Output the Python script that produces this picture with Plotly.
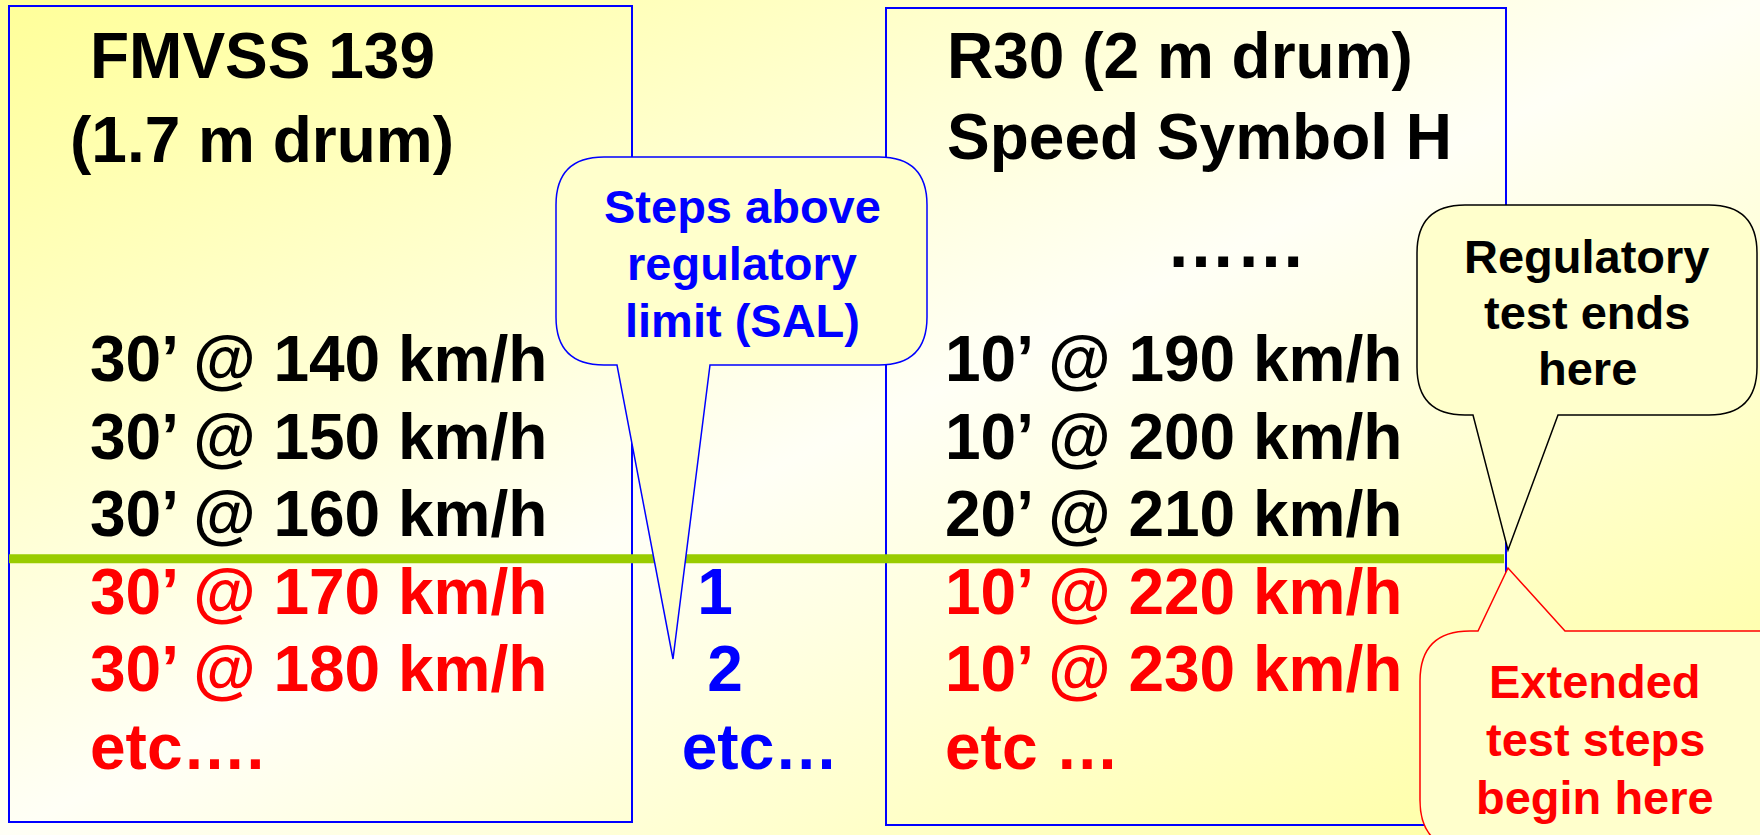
import base64
import plotly.graph_objects as go

W, H = 1760, 835

# ---- data ----
fmvss_minutes = [30, 30, 30, 30, 30]
fmvss_speeds = [140, 150, 160, 170, 180]
r30_minutes = [10, 10, 20, 10, 10]
r30_speeds = [190, 200, 210, 220, 230]
regulatory_rows = 3          # rows above the regulatory limit line
sal_steps = [1, 2]
left_titles = ["FMVSS 139", "(1.7 m drum)"]
right_titles = ["R30 (2 m drum)", "Speed Symbol H"]
sal_note = ["Steps above", "regulatory", "limit (SAL)"]
reg_note = ["Regulatory", "test ends", "here"]
ext_note = ["Extended", "test steps", "begin here"]

FONT = "Liberation Sans, Arial, sans-serif"
BLUE = "#0000FF"
RED = "#FF0000"
BLACK = "#000000"
GREEN = "#99CC00"
FILL = "#FFFFCC"

row_y0, row_step = 365, 77.5
n = len(fmvss_speeds)
row_ys = [row_y0 + i * row_step for i in range(n)]
etc_y = row_y0 + n * row_step
row_colors = [BLACK if i < regulatory_rows else RED for i in range(n)]

fig = go.Figure()

# background gradient
svg = (
    f'<svg xmlns="http://www.w3.org/2000/svg" width="{W}" height="{H}" preserveAspectRatio="none">'
    '<defs><linearGradient id="g" x1="0" y1="0" x2="1" y2="1">'
    '<stop offset="0" stop-color="#FFFF99"/>'
    '<stop offset="0.5" stop-color="#FFFFF6"/>'
    '<stop offset="1" stop-color="#FFFF99"/>'
    '</linearGradient></defs>'
    f'<rect width="{W}" height="{H}" fill="url(#g)"/></svg>'
)
src = "data:image/svg+xml;base64," + base64.b64encode(svg.encode()).decode()

shapes = []
# boxes
shapes.append(dict(type="rect", x0=9, y0=6, x1=632, y1=822, line=dict(color=BLUE, width=2)))
shapes.append(dict(type="rect", x0=886, y0=8, x1=1506, y1=825, line=dict(color=BLUE, width=2)))
# regulatory limit line
limit_y = (row_ys[regulatory_rows - 1] + row_ys[regulatory_rows]) / 2
shapes.append(dict(type="line", x0=9, x1=1504, y0=limit_y, y1=limit_y, line=dict(color=GREEN, width=9)))


def callout(x0, y0, x1, y1, r, base_a, base_b, tip, side="bottom"):
    """rounded rectangle with a triangular pointer; returns svg path"""
    tx, ty = tip
    p = [f"M {x0 + r},{y0}"]
    if side == "top":
        p += [f"L {base_a},{y0}", f"L {tx},{ty}", f"L {base_b},{y0}"]
    p += [f"L {x1 - r},{y0}", f"Q {x1},{y0} {x1},{y0 + r}",
          f"L {x1},{y1 - r}", f"Q {x1},{y1} {x1 - r},{y1}"]
    if side == "bottom":
        p += [f"L {base_b},{y1}", f"L {tx},{ty}", f"L {base_a},{y1}"]
    p += [f"L {x0 + r},{y1}", f"Q {x0},{y1} {x0},{y1 - r}",
          f"L {x0},{y0 + r}", f"Q {x0},{y0} {x0 + r},{y0}", "Z"]
    return " ".join(p)


shapes.append(dict(type="path", path=callout(556, 157, 927, 365, 48, 617, 710, (673, 659)),
                   fillcolor=FILL, line=dict(color=BLUE, width=1.5)))
shapes.append(dict(type="path", path=callout(1417, 205, 1757, 415, 48, 1473, 1558, (1508, 550)),
                   fillcolor=FILL, line=dict(color=BLACK, width=1.5)))
shapes.append(dict(type="path", path=callout(1420, 631, 1810, 850, 50, 1478, 1565, (1508, 568), side="top"),
                   fillcolor=FILL, line=dict(color=RED, width=1.5)))
for s in shapes:
    s.update(xref="x", yref="y", layer="above")

# step rows
fmvss_labels = [f"{m}\u2019 @ {s} km/h" for m, s in zip(fmvss_minutes, fmvss_speeds)] + ["etc\u2026."]
r30_labels = [f"{m}\u2019 @ {s} km/h" for m, s in zip(r30_minutes, r30_speeds)] + ["etc \u2026"]
ys = row_ys + [etc_y]
cols = row_colors + [RED]

fig.add_trace(go.Scatter(x=[90] * len(ys), y=ys, text=fmvss_labels, mode="text",
                         textposition="middle right", hoverinfo="skip",
                         textfont=dict(family=FONT, size=64, color=cols, weight="bold")))
fig.add_trace(go.Scatter(x=[945] * len(ys), y=ys, text=r30_labels, mode="text",
                         textposition="middle right", hoverinfo="skip",
                         textfont=dict(family=FONT, size=64, color=cols, weight="bold")))
sal_labels = [str(v) for v in sal_steps] + ["etc\u2026"]
fig.add_trace(go.Scatter(x=[715, 725, 760], y=row_ys[regulatory_rows:] + [etc_y], text=sal_labels,
                         mode="text", textposition="middle center", hoverinfo="skip",
                         textfont=dict(family=FONT, size=64, color=BLUE, weight="bold")))

ann = []


def add_text(x, y, t, color, size, xanchor="center"):
    ann.append(dict(x=x, y=y, xref="x", yref="y", text=t, showarrow=False, xanchor=xanchor,
                    yanchor="middle", font=dict(family=FONT, size=size, color=color, weight="bold")))


add_text(262, 56, left_titles[0], BLACK, 64)
add_text(262, 140, left_titles[1], BLACK, 64)
add_text(945, 56, right_titles[0], BLACK, 64, "left")
add_text(945, 137, right_titles[1], BLACK, 64, "left")
add_text(1236, 243, "\u2026\u2026", BLACK, 70)
for i, t in enumerate(sal_note):
    add_text(742, 206 + i * 57, t, BLUE, 47)
for i, t in enumerate(reg_note):
    add_text(1587, 256 + i * 56, t, BLACK, 47)
for i, t in enumerate(ext_note):
    add_text(1595, 681 + i * 58, t, RED, 47)

fig.update_layout(
    width=W, height=H, margin=dict(l=0, r=0, t=0, b=0),
    paper_bgcolor="#FFFFFF", plot_bgcolor="rgba(0,0,0,0)",
    showlegend=False, shapes=shapes, annotations=ann,
    images=[dict(source=src, xref="paper", yref="paper", x=0, y=1, sizex=1, sizey=1,
                 sizing="stretch", xanchor="left", yanchor="top", layer="below")],
    xaxis=dict(range=[0, W], visible=False, fixedrange=True),
    yaxis=dict(range=[H, 0], visible=False, fixedrange=True),
)

fig.write_html("out.html", config={"displayModeBar": False},
               post_script="document.body.style.margin='0';document.body.style.overflow='hidden';")
